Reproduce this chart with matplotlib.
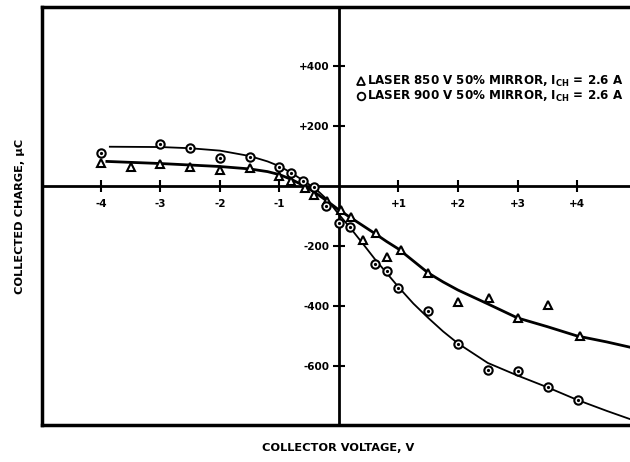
import numpy as np
import matplotlib
matplotlib.use("Agg")
from matplotlib import pyplot as plt
from matplotlib.lines import Line2D

plt.rcParams['font.family'] = ['DejaVu Sans']
plt.rcParams['font.weight'] = 'bold'

# measured points, laser 850 V (triangles)
tri_x = [-4.0, -3.5, -3.0, -2.5, -2.0, -1.5, -1.0, -0.8, -0.57, -0.42, -0.2, 0.03, 0.2, 0.41, 0.62, 0.8, 1.04, 1.5, 2.0, 2.52, 3.0, 3.52, 4.05]
tri_y = [76, 64, 73, 64, 53, 60, 35, 18, -5, -30, -50, -81, -104, -181, -158, -236, -212, -291, -386, -374, -441, -397, -500]

# measured points, laser 900 V (circles)
circ_x = [-4.0, -3.0, -2.5, -2.0, -1.5, -1.0, -0.8, -0.6, -0.42, -0.21, 0.0, 0.18, 0.6, 0.8, 1.0, 1.5, 2.0, 2.5, 3.0, 3.52, 4.02]
circ_y = [111, 140, 126, 94, 98, 64, 44, 16, -4, -67, -124, -137, -261, -285, -339, -416, -527, -613, -616, -671, -713]

# hand-drawn fit curves
fit850_x = [-3.9, -3.0, -2.5, -2.0, -1.5, -1.2, -1.0, -0.8, -0.6, -0.4, -0.2, 0.0, 0.2, 0.4, 0.6, 0.8, 1.0, 1.25, 1.5, 1.75, 2.0, 2.5, 3.0, 3.5, 4.0, 4.5, 4.9]
fit850_y = [82, 75, 70, 65, 57, 48, 38, 22, 2, -22, -50, -80, -106, -132, -158, -185, -210, -250, -290, -320, -347, -393, -440, -469, -500, -520, -538]

fit900_x = [-3.85, -3.0, -2.5, -2.0, -1.5, -1.2, -1.0, -0.8, -0.6, -0.4, -0.2, 0.0, 0.2, 0.4, 0.6, 0.8, 1.0, 1.25, 1.5, 1.75, 2.0, 2.5, 3.0, 3.5, 4.0, 4.5, 4.9]
fit900_y = [131, 130, 126, 118, 100, 82, 66, 44, 18, -8, -45, -95, -142, -192, -243, -290, -337, -392, -440, -485, -525, -590, -632, -671, -713, -750, -778]

xticks = [-4, -3, -2, -1, 1, 2, 3, 4]
xlabels = ['-4', '-3', '-2', '-1', '+1', '+2', '+3', '+4']
yticks = [-600, -400, -200, 200, 400]
ylabels = ['-600', '-400', '-200', '+200', '+400']

fig = plt.figure(figsize=(6.3, 4.62), dpi=100)
ax = fig.add_axes([42/630, 1 - 425/462, 1 - 42/630, (425 - 7)/462])

ax.plot(fit850_x, fit850_y, color='black', lw=2.0, zorder=2)
ax.plot(fit900_x, fit900_y, color='black', lw=1.3, zorder=2)

ax.plot(tri_x, tri_y, ls='none', marker='^', ms=6, mfc='white', mec='black', mew=1.5, zorder=3)
ax.plot(circ_x, circ_y, ls='none', marker='o', ms=6, mfc='white', mec='black', mew=1.5, zorder=3)
ax.plot(circ_x, circ_y, ls='none', marker='o', ms=1.3, color='black', zorder=4)

ax.set_xlim(-4.99, 4.89)
ax.set_ylim(-797, 597)

# centre cross axes
ax.spines['left'].set_position(('data', 0))
ax.spines['bottom'].set_position(('data', 0))
ax.spines['left'].set_linewidth(2)
ax.spines['bottom'].set_linewidth(2)
ax.spines['top'].set_linewidth(2.5)
ax.spines['right'].set_visible(False)

ax.set_xticks(xticks)
ax.set_xticklabels(xlabels)
ax.set_yticks(yticks)
ax.set_yticklabels(ylabels)
ax.tick_params(direction='inout', length=8, width=1.5, labelsize=7.5)
ax.tick_params(axis='x', pad=5)
ax.tick_params(axis='y', pad=3)

# frame lines at the left and bottom edges
ax.add_line(Line2D([0, 0], [0, 1], transform=ax.transAxes, color='black', lw=2.5, clip_on=False))
ax.add_line(Line2D([0, 1], [0, 0], transform=ax.transAxes, color='black', lw=2.5, clip_on=False))

handles = [
    Line2D([], [], ls='none', marker='^', ms=5.5, mfc='white', mec='black', mew=1.3),
    Line2D([], [], ls='none', marker='o', ms=5.5, mfc='white', mec='black', mew=1.3),
]
labels = ['LASER 850 V 50% MIRROR, $\\mathbf{I_{CH}}$ = 2.6 A',
          'LASER 900 V 50% MIRROR, $\\mathbf{I_{CH}}$ = 2.6 A']
fig.legend(handles, labels, loc='upper left', bbox_to_anchor=(348/630, 1 - 66/462),
           frameon=False, handlelength=0.7, handletextpad=0.2, labelspacing=-0.05,
           borderpad=0.2, prop={'size': 8.6, 'weight': 'bold'})

fig.text(20/630, 1 - 216/462, 'COLLECTED CHARGE, \u03bcC', rotation=90, ha='center', va='center',
         fontsize=8.2, fontweight='bold')
fig.text(338/630, 1 - 448/462, 'COLLECTOR VOLTAGE, V', ha='center', va='center',
         fontsize=8.2, fontweight='bold')

fig.savefig('out.png', dpi=100)
